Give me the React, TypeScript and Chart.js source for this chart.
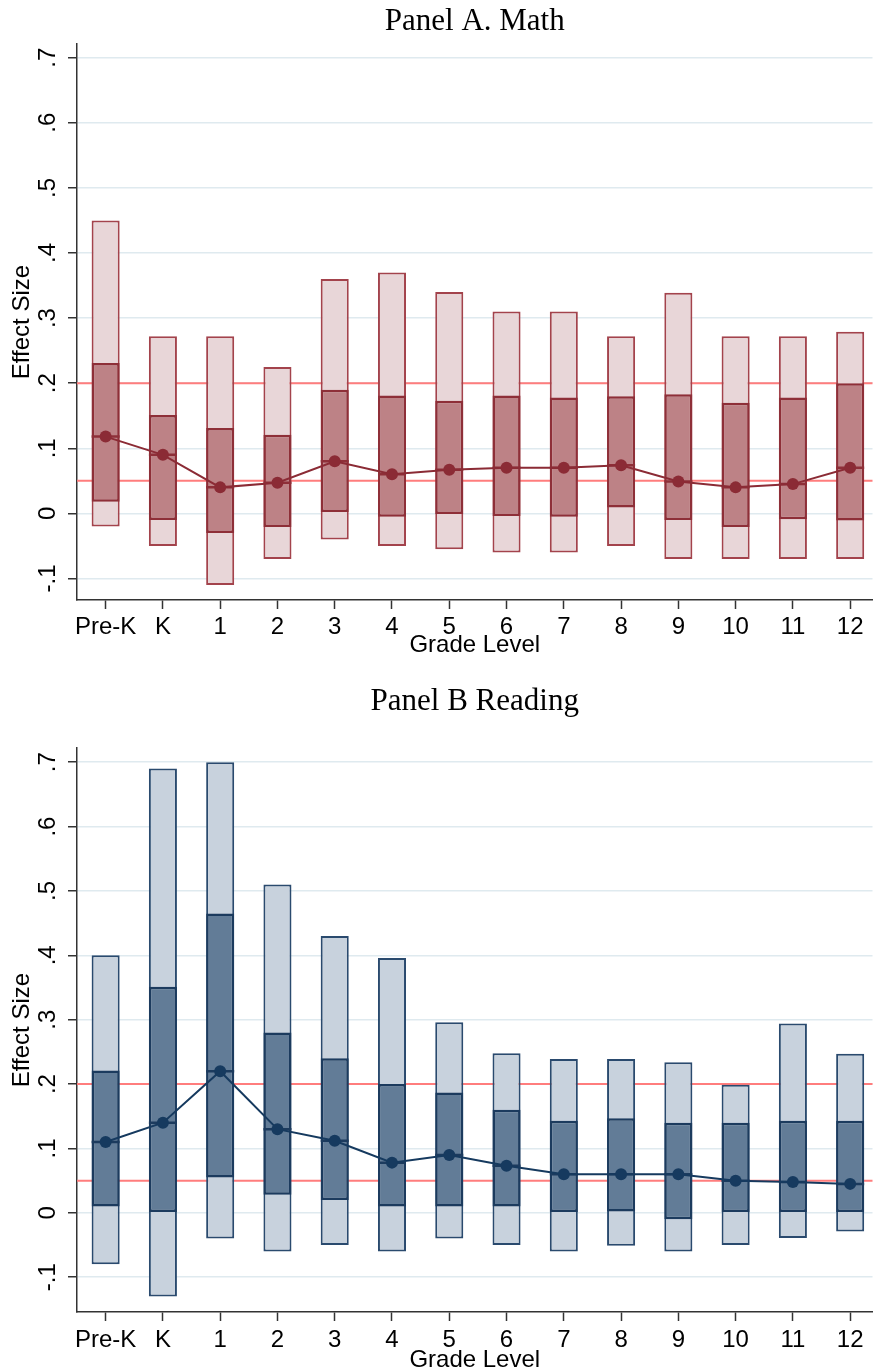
import React, { useEffect, useRef } from "react";
import { Chart, registerables } from "chart.js";

Chart.register(...registerables);

// ---------- data ----------
const gradeLabels = ["Pre-K", "K", "1", "2", "3", "4", "5", "6", "7", "8", "9", "10", "11", "12"];
const yTickValues = [-0.1, 0, 0.1, 0.2, 0.3, 0.4, 0.5, 0.6, 0.7];
const yTickLabels = ["-.1", "0", ".1", ".2", ".3", ".4", ".5", ".6", ".7"];
const refLines = [0.05, 0.2];

const mathLow = [-0.02, -0.05, -0.11, -0.07, -0.04, -0.05, -0.055, -0.06, -0.06, -0.05, -0.07, -0.07, -0.07, -0.07];
const mathQ1 = [0.018, -0.01, -0.03, -0.021, 0.002, -0.005, -0.001, -0.004, -0.005, 0.009, -0.01, -0.021, -0.009, -0.011];
const mathMedian = [0.118, 0.09, 0.04, 0.047, 0.08, 0.06, 0.067, 0.07, 0.07, 0.074, 0.049, 0.04, 0.045, 0.07];
const mathQ3 = [0.231, 0.151, 0.131, 0.121, 0.19, 0.181, 0.173, 0.181, 0.178, 0.18, 0.183, 0.17, 0.178, 0.2];
const mathHigh = [0.45, 0.272, 0.272, 0.225, 0.36, 0.37, 0.34, 0.31, 0.31, 0.272, 0.339, 0.272, 0.272, 0.279];

const readLow = [-0.08, -0.13, -0.04, -0.06, -0.05, -0.06, -0.04, -0.05, -0.06, -0.051, -0.06, -0.05, -0.039, -0.029];
const readQ1 = [0.01, 0, 0.055, 0.028, 0.02, 0.01, 0.01, 0.01, 0, 0.002, -0.01, 0, 0, 0];
const readMedian = [0.11, 0.14, 0.22, 0.13, 0.112, 0.078, 0.09, 0.073, 0.06, 0.06, 0.06, 0.05, 0.048, 0.045];
const readQ3 = [0.221, 0.351, 0.465, 0.28, 0.24, 0.2, 0.187, 0.16, 0.143, 0.147, 0.14, 0.14, 0.143, 0.143];
const readHigh = [0.4, 0.69, 0.7, 0.51, 0.43, 0.396, 0.296, 0.248, 0.239, 0.239, 0.234, 0.199, 0.294, 0.247];

// ---------- styles ----------
const mathColors = {
  outerFill: "#e8d6d8",
  outerBorder: "#a3434c",
  innerFill: "#bd8286",
  innerBorder: "#8e2f38",
  line: "#8b2b35",
};
const readColors = {
  outerFill: "#c8d2dd",
  outerBorder: "#2a4a6e",
  innerFill: "#627c97",
  innerBorder: "#1c3b5e",
  line: "#163a5f",
};

const SANS = '"Liberation Sans", Arial, sans-serif';
const SERIF = '"Liberation Serif", "Times New Roman", serif';
const AXIS = "#333333";

type PanelProps = {
  title: string;
  low: number[];
  q1: number[];
  median: number[];
  q3: number[];
  high: number[];
  colors: typeof mathColors;
  width: number;
  height: number;
  top: number;
  yMin: number;
  yMax: number;
  titlePadTop: number;
  titlePadBottom: number;
  xAxisHeight: number;
  xTickPad: number;
  xTitlePadBottom: number;
};

function Panel(p: PanelProps) {
  const ref = useRef<HTMLCanvasElement>(null);

  useEffect(() => {
    if (!ref.current) return;
    const idx = gradeLabels.map((_, i) => i);

    const refPlugin = {
      id: "refLines",
      beforeDatasetsDraw(chart: any) {
        const { ctx, chartArea, scales } = chart;
        ctx.save();
        ctx.strokeStyle = "#ff7d7d";
        ctx.lineWidth = 2;
        refLines.forEach((v) => {
          const y = scales.y.getPixelForValue(v);
          ctx.beginPath();
          ctx.moveTo(chartArea.left, y);
          ctx.lineTo(chartArea.right, y);
          ctx.stroke();
        });
        ctx.restore();
      },
    };

    const medianPoints = idx.map((i) => ({ x: i, y: p.median[i] }));

    const chart = new Chart(ref.current, {
      type: "bar",
      data: {
        datasets: [
          {
            type: "line",
            data: medianPoints,
            borderColor: p.colors.line,
            borderWidth: 2,
            pointRadius: 6,
            pointBackgroundColor: p.colors.line,
            pointBorderWidth: 0,
            tension: 0,
            order: 0,
          } as any,
          {
            type: "line",
            data: medianPoints,
            showLine: false,
            pointStyle: "line",
            pointRadius: 14,
            pointBorderColor: p.colors.innerBorder,
            pointBorderWidth: 2.5,
            order: 1,
          } as any,
          {
            type: "bar",
            data: idx.map((i) => ({ x: i, y: [p.q1[i], p.q3[i]] })),
            backgroundColor: p.colors.innerFill,
            borderColor: p.colors.innerBorder,
            borderWidth: 2.5,
            borderSkipped: false,
            grouped: false,
            barPercentage: 0.49,
            categoryPercentage: 1,
            order: 2,
          } as any,
          {
            type: "bar",
            data: idx.map((i) => ({ x: i, y: [p.low[i], p.high[i]] })),
            backgroundColor: p.colors.outerFill,
            borderColor: p.colors.outerBorder,
            borderWidth: 2,
            borderSkipped: false,
            grouped: false,
            barPercentage: 0.49,
            categoryPercentage: 1,
            order: 3,
          } as any,
        ],
      },
      options: {
        responsive: false,
        animation: false,
        events: [],
        layout: { padding: 0 },
        plugins: {
          legend: { display: false },
          tooltip: { enabled: false },
          title: {
            display: true,
            text: p.title,
            color: "#000",
            fullSize: false,
            font: { family: SERIF, size: 31, weight: "normal", lineHeight: 1.2 },
            padding: { top: p.titlePadTop, bottom: p.titlePadBottom },
          },
        },
        scales: {
          x: {
            type: "linear",
            min: -0.5,
            max: 13.39,
            offset: false,
            afterBuildTicks: (s: any) => {
              s.ticks = idx.map((v) => ({ value: v }));
            },
            afterFit: (s: any) => {
              s.height = p.xAxisHeight;
            },
            ticks: {
              autoSkip: false,
              minRotation: 0,
              maxRotation: 0,
              padding: p.xTickPad,
              color: "#000",
              font: { family: SANS, size: 24, lineHeight: 1.2 },
              callback: (v: any) => gradeLabels[Math.round(Number(v))],
            },
            grid: {
              drawOnChartArea: false,
              drawTicks: true,
              tickLength: 9,
              tickColor: AXIS,
              tickWidth: 1.5,
              offset: false,
            },
            border: { color: AXIS, width: 1.5 },
            title: {
              display: true,
              text: "Grade Level",
              color: "#000",
              font: { family: SANS, size: 24, lineHeight: 1 },
              padding: { top: 0, bottom: p.xTitlePadBottom },
            },
          },
          y: {
            type: "linear",
            min: p.yMin,
            max: p.yMax,
            afterBuildTicks: (s: any) => {
              s.ticks = yTickValues.map((v) => ({ value: v }));
            },
            afterFit: (s: any) => {
              s.width = 77;
            },
            ticks: {
              minRotation: 90,
              maxRotation: 90,
              crossAlign: "center",
              padding: 6,
              color: "#000",
              font: { family: SANS, size: 24, lineHeight: 1.2 },
              callback: (v: any) => {
                const k = yTickValues.findIndex((t) => Math.abs(t - Number(v)) < 1e-9);
                return k >= 0 ? yTickLabels[k] : "";
              },
            },
            grid: {
              color: "#dfeaef",
              lineWidth: 1.5,
              tickColor: AXIS,
              tickLength: 9,
              tickWidth: 1.5,
            },
            border: { color: AXIS, width: 1.5 },
            title: {
              display: true,
              text: "Effect Size",
              color: "#000",
              font: { family: SANS, size: 24, lineHeight: 1 },
              padding: { top: 10, bottom: 0 },
            },
          },
        },
      } as any,
      plugins: [refPlugin],
    });

    return () => chart.destroy();
  }, []);

  return (
    <canvas
      ref={ref}
      width={p.width}
      height={p.height}
      style={{ position: "absolute", left: 0, top: p.top, width: p.width, height: p.height }}
    />
  );
}

export default function App() {
  return (
    <div style={{ position: "absolute", left: 0, top: 0, width: 889, height: 1372, background: "#fff", overflow: "hidden" }}>
      <Panel
        title="Panel A. Math"
        low={mathLow}
        q1={mathQ1}
        median={mathMedian}
        q3={mathQ3}
        high={mathHigh}
        colors={mathColors}
        width={889}
        height={665}
        top={0}
        yMin={-0.133}
        yMax={0.721}
        titlePadTop={3.4}
        titlePadBottom={3.4}
        xAxisHeight={65}
        xTickPad={3.6}
        xTitlePadBottom={8}
      />
      <Panel
        title="Panel B Reading"
        low={readLow}
        q1={readQ1}
        median={readMedian}
        q3={readQ3}
        high={readHigh}
        colors={readColors}
        width={889}
        height={707}
        top={665}
        yMin={-0.154}
        yMax={0.722}
        titlePadTop={18.4}
        titlePadBottom={27.4}
        xAxisHeight={60}
        xTickPad={4.6}
        xTitlePadBottom={0}
      />
    </div>
  );
}
